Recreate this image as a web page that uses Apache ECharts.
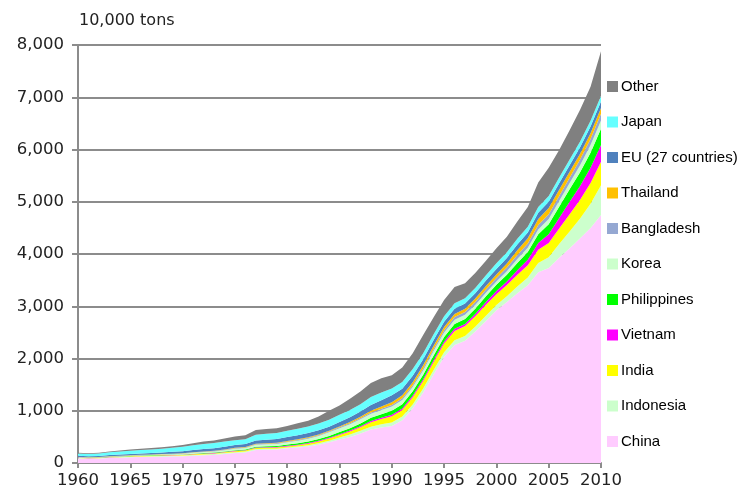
<!DOCTYPE html>
<html>
<head>
<meta charset="utf-8">
<script src="https://cdn.jsdelivr.net/npm/echarts@6/dist/echarts.min.js"></script>
<style>
  html, body { margin: 0; padding: 0; background: #fff; }
  #chart { width: 740px; height: 494px; }
</style>
</head>
<body>
<div id="chart"></div>
<script>
// years on the x axis
var years = []
for (var y = 1960; y <= 2010; y++) years.push(String(y))

// production, unit: 10,000 tons
var china = [88, 80, 85, 96, 102, 110, 116, 118, 122, 126, 130, 140, 150, 155, 172, 190, 200, 250, 255, 258,
  280, 295, 318, 350, 395, 448, 500, 565, 640, 680, 710, 820, 1050, 1350, 1700, 2035, 2260, 2340, 2520, 2720,
  2925, 3080, 3250, 3400, 3650, 3730, 3930, 4110, 4300, 4500, 4746]
var indonesia = [8, 8, 8, 9, 9, 10, 10, 11, 12, 13, 14, 15, 15, 16, 17, 18, 18, 19, 18, 17,
  17, 20, 24, 28, 33, 40, 45, 50, 55, 60, 65, 68, 72, 75, 80, 85, 88, 90, 92, 96,
  100, 110, 130, 150, 180, 210, 260, 320, 380, 460, 570]
var india = [5, 5, 5, 6, 6, 7, 7, 8, 8, 9, 10, 11, 12, 13, 15, 18, 19, 20, 20, 20,
  21, 24, 28, 33, 40, 48, 58, 70, 85, 100, 120, 125, 135, 145, 155, 165, 180, 190, 200, 212,
  205, 215, 225, 235, 250, 270, 300, 330, 360, 400, 450]
var vietnam = [3, 3, 3, 3, 4, 4, 4, 4, 5, 5, 5, 6, 6, 7, 7, 8, 8, 9, 10, 11,
  12, 12, 13, 14, 15, 16, 18, 20, 24, 27, 30, 32, 34, 35, 36, 38, 40, 42, 46, 52,
  60, 70, 85, 105, 130, 170, 200, 240, 260, 290, 320]
var philippines = [3, 3, 3, 4, 4, 4, 5, 5, 5, 6, 6, 7, 8, 8, 9, 10, 11, 14, 17, 20,
  25, 28, 30, 33, 36, 40, 45, 52, 60, 68, 75, 78, 80, 83, 86, 90, 92, 95, 100, 110,
  120, 130, 140, 150, 170, 190, 215, 240, 265, 290, 310]
var korea = [4, 4, 5, 5, 6, 6, 7, 8, 9, 10, 12, 15, 19, 22, 26, 30, 32, 36, 38, 40,
  44, 48, 52, 60, 68, 75, 78, 80, 80, 78, 80, 82, 83, 84, 85, 85, 82, 80, 72, 68,
  65, 67, 75, 80, 90, 100, 110, 120, 135, 145, 160]
var bangladesh = [3, 3, 3, 3, 4, 4, 4, 4, 5, 5, 5, 6, 6, 7, 7, 8, 8, 9, 9, 10,
  10, 11, 12, 13, 14, 15, 17, 19, 22, 25, 30, 33, 35, 38, 42, 45, 50, 55, 58, 62,
  65, 70, 75, 80, 85, 90, 95, 100, 108, 118, 127]
var thailand = [2, 2, 2, 3, 3, 3, 3, 3, 4, 4, 4, 5, 5, 6, 7, 8, 9, 10, 11, 12,
  14, 15, 15, 16, 17, 18, 22, 28, 35, 42, 55, 57, 58, 60, 61, 62, 62, 60, 63, 67,
  70, 75, 90, 100, 115, 120, 120, 115, 110, 110, 110]
var eu27 = [22, 22, 22, 23, 24, 25, 27, 29, 32, 36, 40, 42, 45, 48, 52, 55, 58, 62, 67, 72,
  77, 79, 80, 80, 78, 85, 92, 100, 110, 120, 130, 128, 125, 115, 108, 100, 100, 100, 102, 104,
  105, 107, 110, 112, 118, 120, 122, 123, 124, 125, 127]
var japan = [42, 40, 44, 52, 56, 62, 66, 68, 70, 77, 85, 95, 100, 100, 98, 90, 92, 112, 113, 112,
  115, 122, 126, 130, 132, 140, 140, 140, 150, 150, 130, 128, 125, 115, 110, 105, 105, 100, 100, 102,
  110, 110, 110, 108, 112, 110, 110, 110, 110, 110, 110]
var other = [17, 15, 15, 16, 22, 25, 26, 27, 28, 29, 34, 38, 44, 48, 60, 70, 75, 89, 92, 93,
  95, 106, 112, 133, 172, 175, 215, 246, 269, 270, 255, 279, 303, 350, 327, 310, 311, 288, 287, 277,
  285, 296, 330, 380, 470, 540, 528, 562, 608, 652, 850]

// bottom to top
var names = ['China', 'Indonesia', 'India', 'Vietnam', 'Philippines', 'Korea', 'Bangladesh',
  'Thailand', 'EU (27 countries)', 'Japan', 'Other']
var values = [china, indonesia, india, vietnam, philippines, korea, bangladesh,
  thailand, eu27, japan, other]
var colors = ['#ffccff', '#ccffcc', '#ffff00', '#ff00ff', '#00ff00', '#ccffcc', '#95a8d2',
  '#ffc000', '#4f81bd', '#66ffff', '#808080']

var chart = echarts.init(document.getElementById('chart'))

var series = names.map(function (n, i) {
  return {
    name: n,
    type: 'line',
    stack: 'total',
    symbol: 'none',
    lineStyle: { width: 0 },
    areaStyle: { color: colors[i], opacity: 1 },
    itemStyle: { color: colors[i] },
    data: values[i]
  }
})

chart.setOption({
  animation: false,
  title: {
    text: '10,000 tons',
    left: 74,
    top: 8,
    textStyle: { fontFamily: 'DejaVu Sans', fontSize: 16, fontWeight: 'normal', color: '#222' }
  },
  grid: { left: 78, right: 139, top: 45, bottom: 31 },
  legend: {
    orient: 'vertical',
    left: 602,
    top: 74,
    itemWidth: 11,
    itemHeight: 11,
    itemGap: 20.5,
    icon: 'rect',
    data: names.slice().reverse(),
    textStyle: { fontFamily: 'Liberation Sans', fontSize: 15, color: '#000', padding: [0, 0, 0, -2] }
  },
  xAxis: {
    type: 'category',
    data: years,
    boundaryGap: false,
    axisLine: { lineStyle: { color: '#8c8c8c', width: 2 } },
    axisTick: { interval: 4, length: 5, lineStyle: { color: '#8c8c8c', width: 2 } },
    axisLabel: {
      interval: 4,
      margin: 9,
      fontFamily: 'DejaVu Sans',
      fontSize: 16.5,
      color: '#222'
    },
    splitLine: { show: false }
  },
  yAxis: {
    type: 'value',
    min: 0,
    max: 8000,
    interval: 1000,
    axisLine: { show: true, lineStyle: { color: '#8c8c8c', width: 2 } },
    axisTick: { show: true, length: 6, lineStyle: { color: '#8c8c8c', width: 2 } },
    axisLabel: {
      margin: 14,
      fontFamily: 'DejaVu Sans',
      fontSize: 16.5,
      color: '#222',
      formatter: function (v) { return v.toLocaleString('en-US') }
    },
    splitLine: { lineStyle: { color: '#8c8c8c', width: 2 } }
  },
  series: series
})
</script>
</body>
</html>
